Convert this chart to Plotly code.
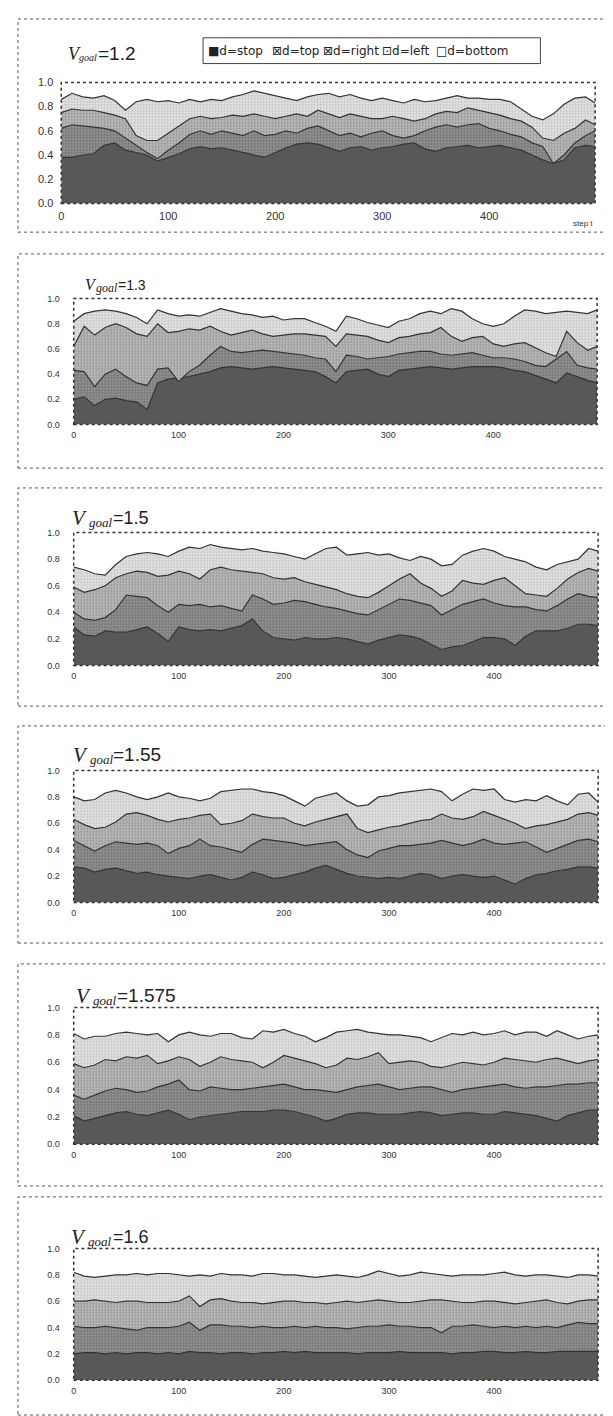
import plotly.graph_objects as go

W, H = 613, 1416
steps = list(range(0, 491, 10)) + [499]
xticks = [0, 100, 200, 300, 400]
yticks = [0.0, 0.2, 0.4, 0.6, 0.8, 1.0]
titles = ["1.2", "1.3", "1.5", "1.55", "1.575", "1.6"]
legend_names = ["d=stop", "d=top", "d=right", "d=left", "d=bottom"]
legend_icons = ["■", "⊠", "⊠", "⊡", "□"]

# ---- V_goal = 1.2 (cumulative upper edges of stacked shares) ----
stop_12 = [0.38, 0.38, 0.40, 0.41, 0.48, 0.50, 0.44, 0.42, 0.40, 0.35,
           0.38, 0.41, 0.45, 0.47, 0.45, 0.46, 0.44, 0.42, 0.40, 0.38,
           0.42, 0.46, 0.49, 0.50, 0.49, 0.46, 0.43, 0.46, 0.47, 0.44,
           0.46, 0.47, 0.49, 0.50, 0.45, 0.43, 0.46, 0.47, 0.48, 0.46,
           0.47, 0.48, 0.46, 0.44, 0.40, 0.36, 0.33, 0.36, 0.46, 0.48, 0.47]
top_12 = [0.62, 0.65, 0.64, 0.63, 0.62, 0.60, 0.54, 0.48, 0.42, 0.37,
          0.44, 0.50, 0.57, 0.60, 0.57, 0.60, 0.58, 0.56, 0.60, 0.56,
          0.57, 0.60, 0.58, 0.62, 0.64, 0.60, 0.56, 0.58, 0.55, 0.58,
          0.60, 0.56, 0.54, 0.56, 0.60, 0.63, 0.65, 0.63, 0.65, 0.66,
          0.62, 0.60, 0.57, 0.55, 0.50, 0.47, 0.33, 0.40, 0.50, 0.56, 0.60]
right_12 = [0.75, 0.78, 0.77, 0.77, 0.75, 0.73, 0.70, 0.56, 0.52, 0.52,
            0.58, 0.64, 0.70, 0.72, 0.70, 0.71, 0.73, 0.72, 0.74, 0.72,
            0.70, 0.72, 0.74, 0.72, 0.77, 0.74, 0.71, 0.74, 0.72, 0.70,
            0.70, 0.72, 0.70, 0.68, 0.70, 0.74, 0.76, 0.75, 0.79, 0.77,
            0.75, 0.73, 0.70, 0.68, 0.63, 0.54, 0.52, 0.58, 0.62, 0.69, 0.65]
left_12 = [0.86, 0.91, 0.88, 0.87, 0.89, 0.85, 0.77, 0.84, 0.86, 0.84,
           0.85, 0.83, 0.86, 0.84, 0.86, 0.85, 0.88, 0.90, 0.93, 0.91,
           0.89, 0.87, 0.85, 0.88, 0.90, 0.91, 0.88, 0.90, 0.87, 0.85,
           0.87, 0.85, 0.83, 0.86, 0.84, 0.85, 0.87, 0.89, 0.87, 0.87,
           0.86, 0.86, 0.84, 0.78, 0.72, 0.69, 0.74, 0.82, 0.87, 0.88, 0.83]

# ---- V_goal = 1.3 ----
stop_13 = [0.20, 0.22, 0.15, 0.20, 0.21, 0.19, 0.18, 0.12, 0.33, 0.36,
           0.37, 0.38, 0.40, 0.42, 0.45, 0.46, 0.45, 0.44, 0.45, 0.46,
           0.45, 0.44, 0.43, 0.42, 0.38, 0.33, 0.42, 0.43, 0.44, 0.40,
           0.38, 0.43, 0.44, 0.45, 0.46, 0.45, 0.44, 0.45, 0.46, 0.46,
           0.46, 0.45, 0.43, 0.42, 0.39, 0.36, 0.33, 0.41, 0.38, 0.35, 0.33]
top_13 = [0.43, 0.42, 0.30, 0.40, 0.44, 0.38, 0.33, 0.31, 0.44, 0.45,
          0.34, 0.42, 0.47, 0.55, 0.62, 0.58, 0.57, 0.58, 0.59, 0.58,
          0.57, 0.56, 0.55, 0.53, 0.52, 0.42, 0.55, 0.54, 0.52, 0.53,
          0.54, 0.56, 0.57, 0.58, 0.58, 0.56, 0.55, 0.56, 0.57, 0.55,
          0.53, 0.53, 0.52, 0.50, 0.47, 0.46, 0.52, 0.58, 0.47, 0.45, 0.44]
right_13 = [0.62, 0.78, 0.71, 0.77, 0.80, 0.77, 0.72, 0.70, 0.80, 0.73,
            0.74, 0.76, 0.75, 0.78, 0.74, 0.71, 0.73, 0.75, 0.72, 0.70,
            0.71, 0.72, 0.72, 0.71, 0.70, 0.62, 0.72, 0.71, 0.70, 0.67,
            0.65, 0.69, 0.70, 0.72, 0.73, 0.77, 0.70, 0.66, 0.69, 0.70,
            0.64, 0.62, 0.64, 0.65, 0.61, 0.57, 0.54, 0.74, 0.65, 0.59, 0.62]
left_13 = [0.82, 0.88, 0.90, 0.91, 0.90, 0.88, 0.85, 0.80, 0.91, 0.88,
           0.86, 0.87, 0.86, 0.89, 0.92, 0.90, 0.88, 0.87, 0.85, 0.86,
           0.83, 0.84, 0.84, 0.81, 0.78, 0.74, 0.86, 0.84, 0.81, 0.79,
           0.77, 0.82, 0.84, 0.88, 0.90, 0.88, 0.92, 0.90, 0.84, 0.80,
           0.78, 0.80, 0.86, 0.91, 0.90, 0.88, 0.89, 0.90, 0.89, 0.88, 0.91]

# ---- V_goal = 1.5 ----
stop_15 = [0.29, 0.23, 0.22, 0.26, 0.25, 0.25, 0.27, 0.29, 0.24, 0.18,
           0.29, 0.27, 0.26, 0.27, 0.26, 0.28, 0.30, 0.35, 0.26, 0.21,
           0.20, 0.19, 0.21, 0.20, 0.20, 0.21, 0.20, 0.18, 0.16, 0.19,
           0.21, 0.23, 0.22, 0.20, 0.16, 0.12, 0.14, 0.15, 0.18, 0.21,
           0.21, 0.20, 0.15, 0.22, 0.26, 0.26, 0.26, 0.28, 0.31, 0.31, 0.30]
top_15 = [0.40, 0.35, 0.34, 0.36, 0.42, 0.53, 0.52, 0.51, 0.45, 0.40,
          0.46, 0.45, 0.46, 0.44, 0.45, 0.43, 0.41, 0.53, 0.50, 0.46,
          0.47, 0.49, 0.48, 0.46, 0.44, 0.43, 0.41, 0.39, 0.38, 0.42,
          0.46, 0.50, 0.49, 0.47, 0.45, 0.38, 0.42, 0.46, 0.48, 0.50,
          0.47, 0.45, 0.44, 0.44, 0.42, 0.41, 0.45, 0.50, 0.54, 0.52, 0.51]
right_15 = [0.59, 0.55, 0.57, 0.60, 0.66, 0.69, 0.71, 0.70, 0.67, 0.68,
            0.71, 0.69, 0.65, 0.72, 0.74, 0.72, 0.71, 0.70, 0.69, 0.66,
            0.65, 0.66, 0.63, 0.61, 0.59, 0.57, 0.54, 0.52, 0.51, 0.55,
            0.60, 0.65, 0.69, 0.62, 0.58, 0.52, 0.56, 0.64, 0.62, 0.61,
            0.64, 0.66, 0.60, 0.54, 0.53, 0.52, 0.58, 0.65, 0.70, 0.73, 0.71]
left_15 = [0.74, 0.72, 0.69, 0.68, 0.76, 0.82, 0.84, 0.85, 0.84, 0.82,
           0.86, 0.89, 0.88, 0.91, 0.89, 0.88, 0.87, 0.88, 0.86, 0.85,
           0.84, 0.82, 0.80, 0.84, 0.88, 0.89, 0.83, 0.84, 0.85, 0.83,
           0.84, 0.81, 0.79, 0.82, 0.80, 0.75, 0.76, 0.83, 0.86, 0.88,
           0.86, 0.82, 0.80, 0.78, 0.74, 0.72, 0.76, 0.78, 0.80, 0.88, 0.86]

# ---- V_goal = 1.55 ----
stop_155 = [0.27, 0.26, 0.23, 0.25, 0.26, 0.24, 0.22, 0.23, 0.21, 0.20,
            0.19, 0.18, 0.20, 0.21, 0.19, 0.17, 0.19, 0.23, 0.21, 0.18,
            0.19, 0.21, 0.23, 0.26, 0.28, 0.25, 0.22, 0.20, 0.19, 0.18,
            0.19, 0.18, 0.20, 0.22, 0.21, 0.18, 0.20, 0.21, 0.20, 0.19,
            0.20, 0.17, 0.14, 0.18, 0.21, 0.22, 0.24, 0.25, 0.27, 0.27, 0.26]
top_155 = [0.47, 0.43, 0.39, 0.43, 0.46, 0.45, 0.44, 0.45, 0.43, 0.37,
           0.41, 0.43, 0.48, 0.43, 0.42, 0.40, 0.38, 0.44, 0.48, 0.47,
           0.46, 0.45, 0.43, 0.44, 0.45, 0.46, 0.40, 0.36, 0.34, 0.39,
           0.41, 0.43, 0.43, 0.44, 0.45, 0.47, 0.45, 0.43, 0.45, 0.48,
           0.45, 0.44, 0.45, 0.46, 0.42, 0.38, 0.41, 0.44, 0.47, 0.48, 0.46]
right_155 = [0.63, 0.59, 0.56, 0.57, 0.61, 0.67, 0.68, 0.66, 0.63, 0.61,
             0.63, 0.64, 0.66, 0.67, 0.59, 0.60, 0.62, 0.67, 0.65, 0.64,
             0.64, 0.60, 0.58, 0.61, 0.63, 0.65, 0.67, 0.56, 0.53, 0.55,
             0.57, 0.58, 0.60, 0.62, 0.63, 0.67, 0.64, 0.63, 0.65, 0.69,
             0.66, 0.63, 0.60, 0.56, 0.58, 0.59, 0.61, 0.63, 0.67, 0.68, 0.66]
left_155 = [0.80, 0.77, 0.78, 0.83, 0.85, 0.83, 0.80, 0.78, 0.80, 0.83,
            0.80, 0.79, 0.77, 0.79, 0.84, 0.85, 0.86, 0.86, 0.84, 0.83,
            0.81, 0.77, 0.73, 0.79, 0.81, 0.83, 0.77, 0.73, 0.74, 0.80,
            0.81, 0.83, 0.84, 0.85, 0.86, 0.84, 0.77, 0.82, 0.86, 0.85,
            0.86, 0.78, 0.76, 0.78, 0.77, 0.81, 0.77, 0.74, 0.82, 0.83, 0.76]

# ---- V_goal = 1.575 ----
stop_1575 = [0.21, 0.17, 0.19, 0.21, 0.23, 0.24, 0.22, 0.21, 0.23, 0.25,
             0.22, 0.18, 0.20, 0.21, 0.22, 0.23, 0.24, 0.24, 0.24, 0.25,
             0.25, 0.24, 0.22, 0.20, 0.17, 0.19, 0.22, 0.23, 0.23, 0.22,
             0.22, 0.22, 0.23, 0.24, 0.23, 0.21, 0.22, 0.23, 0.23, 0.22,
             0.22, 0.24, 0.23, 0.22, 0.21, 0.19, 0.17, 0.21, 0.23, 0.25, 0.25]
top_1575 = [0.36, 0.33, 0.36, 0.39, 0.41, 0.40, 0.38, 0.39, 0.42, 0.44,
            0.47, 0.40, 0.39, 0.42, 0.41, 0.40, 0.40, 0.41, 0.42, 0.43,
            0.44, 0.42, 0.40, 0.40, 0.39, 0.38, 0.40, 0.42, 0.43, 0.44,
            0.42, 0.40, 0.41, 0.42, 0.42, 0.40, 0.38, 0.40, 0.41, 0.42,
            0.43, 0.44, 0.42, 0.41, 0.42, 0.42, 0.43, 0.44, 0.44, 0.45, 0.45]
right_1575 = [0.59, 0.56, 0.58, 0.62, 0.61, 0.64, 0.63, 0.65, 0.59, 0.61,
              0.64, 0.62, 0.57, 0.60, 0.64, 0.62, 0.61, 0.60, 0.56, 0.60,
              0.65, 0.63, 0.61, 0.59, 0.56, 0.58, 0.63, 0.62, 0.64, 0.67,
              0.59, 0.60, 0.61, 0.60, 0.57, 0.56, 0.58, 0.60, 0.59, 0.58,
              0.60, 0.63, 0.62, 0.61, 0.60, 0.62, 0.63, 0.61, 0.59, 0.61, 0.62]
left_1575 = [0.81, 0.77, 0.79, 0.79, 0.81, 0.82, 0.81, 0.80, 0.81, 0.75,
             0.80, 0.82, 0.80, 0.79, 0.81, 0.81, 0.78, 0.77, 0.83, 0.82,
             0.84, 0.81, 0.79, 0.75, 0.78, 0.82, 0.83, 0.84, 0.82, 0.81,
             0.80, 0.80, 0.79, 0.78, 0.75, 0.78, 0.81, 0.80, 0.82, 0.80,
             0.81, 0.83, 0.80, 0.82, 0.82, 0.79, 0.83, 0.80, 0.77, 0.79, 0.80]

# ---- V_goal = 1.6 ----
stop_16 = [0.20, 0.21, 0.21, 0.20, 0.21, 0.20, 0.21, 0.21, 0.20, 0.21,
           0.20, 0.22, 0.21, 0.21, 0.20, 0.21, 0.21, 0.20, 0.21, 0.21,
           0.22, 0.21, 0.22, 0.21, 0.21, 0.21, 0.21, 0.20, 0.21, 0.21,
           0.21, 0.22, 0.21, 0.21, 0.21, 0.21, 0.20, 0.21, 0.21, 0.22,
           0.22, 0.21, 0.21, 0.22, 0.21, 0.21, 0.22, 0.22, 0.22, 0.22, 0.22]
top_16 = [0.41, 0.40, 0.40, 0.41, 0.40, 0.39, 0.38, 0.40, 0.40, 0.40,
          0.41, 0.44, 0.38, 0.42, 0.42, 0.41, 0.41, 0.40, 0.41, 0.40,
          0.40, 0.41, 0.40, 0.41, 0.40, 0.40, 0.39, 0.40, 0.41, 0.41,
          0.42, 0.41, 0.41, 0.40, 0.40, 0.36, 0.41, 0.41, 0.42, 0.41,
          0.40, 0.41, 0.40, 0.41, 0.40, 0.41, 0.40, 0.42, 0.44, 0.43, 0.43]
right_16 = [0.60, 0.60, 0.61, 0.60, 0.59, 0.60, 0.60, 0.59, 0.59, 0.59,
            0.60, 0.64, 0.56, 0.61, 0.62, 0.60, 0.59, 0.59, 0.58, 0.59,
            0.60, 0.60, 0.59, 0.59, 0.58, 0.59, 0.60, 0.59, 0.60, 0.61,
            0.60, 0.59, 0.59, 0.60, 0.61, 0.61, 0.60, 0.59, 0.59, 0.60,
            0.60, 0.59, 0.58, 0.59, 0.60, 0.61, 0.59, 0.58, 0.60, 0.61, 0.61]
left_16 = [0.82, 0.79, 0.78, 0.79, 0.80, 0.80, 0.81, 0.80, 0.81, 0.81,
           0.80, 0.79, 0.80, 0.79, 0.81, 0.80, 0.80, 0.79, 0.81, 0.81,
           0.80, 0.80, 0.79, 0.78, 0.79, 0.80, 0.79, 0.78, 0.80, 0.83,
           0.81, 0.79, 0.80, 0.82, 0.81, 0.80, 0.79, 0.80, 0.80, 0.80,
           0.81, 0.82, 0.80, 0.79, 0.80, 0.80, 0.79, 0.78, 0.80, 0.80, 0.79]

panels = [
    (stop_12, top_12, right_12, left_12),
    (stop_13, top_13, right_13, left_13),
    (stop_15, top_15, right_15, left_15),
    (stop_155, top_155, right_155, left_155),
    (stop_1575, top_1575, right_1575, left_1575),
    (stop_16, top_16, right_16, left_16),
]
for p in panels:
    for arr in p:
        assert len(arr) == len(steps), len(arr)

# ---- layout geometry (pixels) ----
plot_px = [  # x0, x1, y(1.0), y(0.0)
    (50.5, 587, 69, 191),
    (63, 589, 287, 414),
    (63, 590, 523, 657),
    (63, 590, 763, 896),
    (63, 590, 1002, 1140),
    (63, 590, 1245, 1378),
]
box_px = [(5, 220), (242, 458), (478, 698), (718, 937), (958, 1182), (1193, 1413)]
# (V x, V size, "goal" x, "goal" size, "=" x, "=" size, centre y)
title_px = [(55, 18, 66, 10, 85, 19, 40),
            (72, 16, 83, 12, 106, 14, 273),
            (59, 21, 76, 13, 100, 18, 508),
            (60, 21, 77, 13, 100, 19, 747),
            (63, 21, 80, 13, 105, 19, 990),
            (58, 21, 75, 13, 100, 18, 1233)]
tick_size = [11, 9, 9, 9, 9, 9]
legend_x = [196, 260, 312, 371, 425]

def px(x):
    return x / W

def py(y):
    return 1 - y / H

LINE = "#333333"
fill_specs = [
    dict(fillcolor="#585858"),
    dict(fillpattern=dict(shape=".", fgcolor="#3a3a3a", bgcolor="#a0a0a0", size=3, solidity=0.5)),
    dict(fillpattern=dict(shape=".", fgcolor="#5a5a5a", bgcolor="#c4c4c4", size=3, solidity=0.45)),
    dict(fillpattern=dict(shape=".", fgcolor="#8a8a8a", bgcolor="#e6e6e6", size=3, solidity=0.35)),
]

fig = go.Figure()
shapes = []
annotations = []

def note(x, y, text, family, size, italic=False):
    annotations.append(dict(
        xref="paper", yref="paper", x=px(x), y=py(y), xanchor="left", yanchor="middle",
        showarrow=False, text=f"<i>{text}</i>" if italic else text,
        font=dict(family=family, size=size, color="#222")))

for i, (series, geo, box, tpos) in enumerate(zip(panels, plot_px, box_px, title_px)):
    k = i + 1
    xa = "x" if k == 1 else f"x{k}"
    ya = "y" if k == 1 else f"y{k}"
    for j, (vals, spec) in enumerate(zip(series, fill_specs)):
        fig.add_trace(go.Scatter(
            x=steps, y=vals, xaxis=xa, yaxis=ya, mode="lines",
            line=dict(color=LINE, width=1.2),
            fill="tozeroy" if j == 0 else "tonexty",
            showlegend=False, hoverinfo="skip", **spec))
    x0, x1, yt, yb = geo
    fig.layout[f"xaxis{k}" if k > 1 else "xaxis"] = dict(
        domain=[px(x0), px(x1)], anchor=ya, range=[0, 499],
        tickvals=xticks, ticks="", showline=False, showgrid=False, zeroline=False,
        tickfont=dict(family="Liberation Sans", size=tick_size[i], color="#333"),
        ticklabelstandoff=5 if k == 1 else 4)
    fig.layout[f"yaxis{k}" if k > 1 else "yaxis"] = dict(
        domain=[py(yb), py(yt)], anchor=xa, range=[0, 1],
        tickvals=yticks, tickformat=".1f", ticks="", showline=False, showgrid=False,
        zeroline=False,
        tickfont=dict(family="Liberation Sans", size=tick_size[i], color="#333"),
        ticklabelstandoff=7 if k == 1 else 13)
    shapes.append(dict(type="rect", xref=f"{xa} domain", yref=f"{ya} domain",
                       x0=0, x1=1, y0=0, y1=1, line=dict(color="#333", width=1.5, dash="dot")))
    shapes.append(dict(type="rect", xref="paper", yref="paper",
                       x0=px(7), x1=px(640), y0=py(box[1]), y1=py(box[0]),
                       line=dict(color="#555", width=1, dash="dot")))
    vx, vs, gx, gs, ex, es, cy = tpos
    note(vx, cy, "V", "Liberation Serif", vs, italic=True)
    note(gx, cy + vs * 0.22, "goal", "Liberation Serif", gs, italic=True)
    note(ex, cy, "=" + titles[i], "Liberation Sans", es)

# legend box (first panel)
shapes.append(dict(type="rect", xref="paper", yref="paper", x0=px(193), x1=px(532),
                   y0=py(50), y1=py(24), line=dict(color="#444", width=1), fillcolor="white"))
for lx, ic, nm in zip(legend_x, legend_icons, legend_names):
    note(lx, 37, ic + nm, "DejaVu Sans", 12)
annotations.append(dict(
    xref="paper", yref="paper", x=px(575), y=py(211), xanchor="center", yanchor="middle",
    showarrow=False, text="step t", font=dict(family="Liberation Sans", size=8, color="#333")))

fig.update_layout(width=W, height=H, margin=dict(l=0, r=0, t=0, b=0),
                  paper_bgcolor="white", plot_bgcolor="white",
                  shapes=shapes, annotations=annotations, showlegend=False)
fig.write_html("out.html")
